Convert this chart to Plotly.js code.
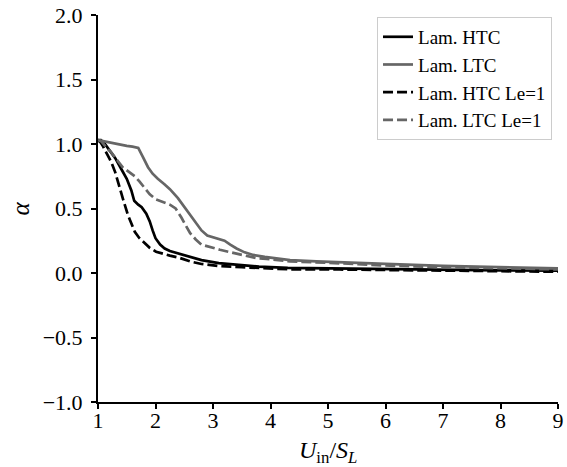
<!DOCTYPE html>
<html>
<head>
<meta charset="utf-8">
<script src="https://cdn.plot.ly/plotly-3.0.1.min.js"></script>
<style>html,body{margin:0;padding:0;background:#fff;}#chart{width:567px;height:467px;}</style>
</head>
<body>
<div id="chart"></div>
<script>
// Lam. HTC
const htcX = [1.0, 1.05, 1.12, 1.2, 1.3, 1.4, 1.5, 1.58, 1.63, 1.7, 1.76, 1.84, 1.9, 1.95, 2.0, 2.08, 2.16, 2.25, 2.4, 2.6, 2.8, 3.1, 3.5, 3.8, 4.3, 5.2, 6.0, 7.0, 8.0, 9.0];
const htcY = [1.03, 1.03, 1.0, 0.95, 0.89, 0.81, 0.73, 0.64, 0.56, 0.53, 0.51, 0.46, 0.40, 0.33, 0.27, 0.22, 0.19, 0.17, 0.15, 0.125, 0.10, 0.076, 0.058, 0.05, 0.040, 0.034, 0.028, 0.024, 0.020, 0.018];
// Lam. LTC
const ltcX = [1.0, 1.1, 1.2, 1.3, 1.4, 1.5, 1.6, 1.7, 1.78, 1.87, 1.95, 2.04, 2.15, 2.25, 2.39, 2.54, 2.67, 2.8, 2.9, 3.0, 3.1, 3.2, 3.3, 3.41, 3.55, 3.7, 3.9, 4.1, 4.34, 4.8, 5.2, 6.0, 7.0, 8.0, 9.0];
const ltcY = [1.03, 1.02, 1.01, 1.0, 0.99, 0.985, 0.98, 0.97, 0.90, 0.82, 0.77, 0.73, 0.69, 0.65, 0.58, 0.49, 0.41, 0.33, 0.29, 0.275, 0.265, 0.25, 0.22, 0.19, 0.16, 0.14, 0.125, 0.115, 0.10, 0.09, 0.085, 0.07, 0.055, 0.045, 0.036];
// Lam. HTC Le=1
const htcLeX = [1.0, 1.05, 1.09, 1.16, 1.23, 1.3, 1.35, 1.43, 1.52, 1.58, 1.64, 1.72, 1.81, 1.9, 2.01, 2.12, 2.25, 2.4, 2.6, 2.8, 3.1, 3.5, 4.3, 5.2, 6.0, 7.0, 8.0, 9.0];
const htcLeY = [1.03, 1.01, 0.98, 0.92, 0.86, 0.78, 0.71, 0.58, 0.45, 0.38, 0.32, 0.27, 0.23, 0.195, 0.165, 0.15, 0.135, 0.12, 0.09, 0.07, 0.054, 0.045, 0.029, 0.027, 0.022, 0.018, 0.014, 0.010];
// Lam. LTC Le=1
const ltcLeX = [1.0, 1.06, 1.15, 1.22, 1.29, 1.36, 1.43, 1.52, 1.64, 1.72, 1.81, 1.9, 2.01, 2.12, 2.25, 2.35, 2.45, 2.6, 2.7, 2.8, 2.95, 3.12, 3.41, 3.76, 3.93, 4.34, 5.2, 6.0, 7.0, 8.0, 9.0];
const ltcLeY = [1.03, 1.02, 0.97, 0.94, 0.90, 0.86, 0.82, 0.79, 0.75, 0.71, 0.66, 0.61, 0.57, 0.55, 0.53, 0.50, 0.43, 0.31, 0.26, 0.22, 0.20, 0.18, 0.15, 0.115, 0.11, 0.09, 0.075, 0.058, 0.045, 0.035, 0.028];

const names = ["Lam. HTC", "Lam. LTC", "Lam. HTC Le=1", "Lam. LTC Le=1"];
const xTicks = [1, 2, 3, 4, 5, 6, 7, 8, 9];
const yTicks = [-1.0, -0.5, 0.0, 0.5, 1.0, 1.5, 2.0];
const yTickText = ["\u22121.0", "\u22120.5", "0.0", "0.5", "1.0", "1.5", "2.0"];
const xTitle = "<i>U</i><sub>in</sub>/<i>S</i><sub><i>L</i></sub>";
const yTitle = "<i>α</i>";

const black = "#000000", gray = "#666666";
const dash = "10px,4px";
const traces = [
  {x: htcX, y: htcY, name: names[0], mode: "lines", line: {color: black, width: 2.7}},
  {x: ltcX, y: ltcY, name: names[1], mode: "lines", line: {color: gray, width: 2.7}},
  {x: htcLeX, y: htcLeY, name: names[2], mode: "lines", line: {color: black, width: 2.7, dash: dash}},
  {x: ltcLeX, y: ltcLeY, name: names[3], mode: "lines", line: {color: gray, width: 2.7, dash: dash}}
];

const fam = "Liberation Serif, DejaVu Serif, serif";
const f = (s) => ({family: fam, size: s, color: "#000"});
const layout = {
  width: 567, height: 467,
  margin: {l: 98, r: 9, t: 15, b: 65},
  paper_bgcolor: "#fff", plot_bgcolor: "#fff",
  font: f(22),
  showlegend: true,
  legend: {
    x: 0.987, y: 0.995, xanchor: "right", yanchor: "top",
    bgcolor: "rgba(255,255,255,0.8)", bordercolor: "#cccccc", borderwidth: 1,
    font: f(19), tracegroupgap: 0
  },
  xaxis: {
    range: [1, 9], tickvals: xTicks, ticktext: xTicks.map(String),
    showgrid: false, zeroline: false, showline: true, linecolor: "#000", linewidth: 2,
    ticks: "outside", ticklen: 5, tickwidth: 2, tickcolor: "#000",
    tickfont: f(22), ticklabelstandoff: -7
  },
  yaxis: {
    range: [-1, 2], tickvals: yTicks, ticktext: yTickText,
    showgrid: false, zeroline: false, showline: true, linecolor: "#000", linewidth: 2,
    ticks: "outside", ticklen: 5, tickwidth: 2, tickcolor: "#000",
    tickfont: f(22), ticklabelstandoff: 4
  },
  annotations: [
    {text: xTitle, xref: "paper", yref: "paper", x: 0.5, y: 0, xanchor: "center", yanchor: "middle",
     yshift: -50, showarrow: false, font: f(24)},
    {text: yTitle, xref: "paper", yref: "paper", x: 0, y: 0.5, xanchor: "center", yanchor: "middle",
     xshift: -78, textangle: -90, showarrow: false, font: f(25)}
  ]
};
Plotly.newPlot("chart", traces, layout, {displayModeBar: false, staticPlot: true});
</script>
</body>
</html>
